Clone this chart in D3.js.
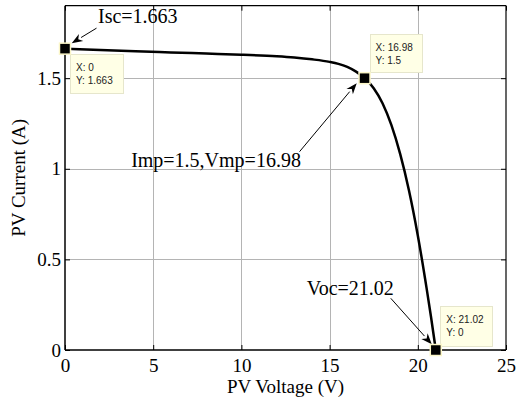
<!DOCTYPE html>
<html><head><meta charset="utf-8">
<script src="https://cdn.jsdelivr.net/npm/d3@7"></script>
<style>body{margin:0;background:#fff}svg{display:block}</style>
</head><body>
<svg id="c" width="516" height="400"></svg>
<script>
// ---- data ----
const voltage = [0, 2, 4, 6, 8, 10, 12, 13, 14, 15, 15.5, 16, 16.5, 16.98, 17.5, 18, 18.5, 19, 19.5, 20, 20.5, 20.75, 21.02];
const current = [1.663, 1.655, 1.648, 1.642, 1.636, 1.630, 1.621, 1.614, 1.604, 1.590, 1.579, 1.562, 1.536, 1.5, 1.445, 1.362, 1.242, 1.082, 0.88, 0.632, 0.34, 0.182, 0];
const xTicks = [0, 5, 10, 15, 20, 25];
const yTicks = [0, 0.5, 1, 1.5];
const tipX = [0, 16.98, 21.02];
const tipY = [1.663, 1.5, 0];
const tipLabelX = ["X: 0", "X: 16.98", "X: 21.02"];
const tipLabelY = ["Y: 1.663", "Y: 1.5", "Y: 0"];
const annText = ["Isc=1.663", "Imp=1.5,Vmp=16.98", "Voc=21.02"];
const xLabel = "PV Voltage (V)";
const yLabel = "PV Current (A)";

// ---- layout ----
const W = 516, H = 400;
const m = {l: 65, r: 10, t: 5.7, b: 50};
const svg = d3.select("#c");
const x = d3.scaleLinear().domain([0, 25]).range([m.l, W - m.r]);
const y = d3.scaleLinear().domain([0, 1.9]).range([H - m.b, m.t]);
const serif = "'Liberation Serif','Times New Roman',serif";

// grid
const g = svg.append("g");
g.selectAll(".gx").data(xTicks.slice(1, -1)).join("line")
  .attr("x1", d => Math.round(x(d)) + 0.5).attr("x2", d => Math.round(x(d)) + 0.5)
  .attr("y1", y(1.9)).attr("y2", y(0)).attr("stroke", "#b4b4b4").attr("stroke-width", 1);
g.selectAll(".gy").data(yTicks.slice(1)).join("line")
  .attr("y1", d => Math.round(y(d)) + 0.5).attr("y2", d => Math.round(y(d)) + 0.5)
  .attr("x1", x(0)).attr("x2", x(25)).attr("stroke", "#b4b4b4").attr("stroke-width", 1);

// axes (ticks inside, on all four sides)
const ax = d3.axisBottom(x).tickValues(xTicks).tickSize(-5).tickPadding(9).tickFormat(d3.format("d"));
const ay = d3.axisLeft(y).tickValues(yTicks).tickSize(-5).tickPadding(4).tickFormat(d => d === 0 ? "0" : d3.format("")(d));
const axT = d3.axisTop(x).tickValues(xTicks).tickSize(-5).tickFormat("");
const ayR = d3.axisRight(y).tickValues(yTicks).tickSize(-5).tickFormat("");
function style(sel) {
  sel.selectAll("path").attr("stroke", "#000").attr("stroke-width", 1.5);
  sel.selectAll("line").attr("stroke", "#000");
  sel.selectAll("text").attr("font-family", serif).attr("font-size", 19).attr("fill", "#000");
}
svg.append("g").attr("transform", `translate(0,${y(0)})`).call(ax).call(style)
  .selectAll("path.domain").attr("d", `M${x(0)},0H${x(25)}`);
svg.append("g").attr("transform", `translate(${x(0)},0)`).call(ay).call(style)
  .selectAll("path.domain").attr("d", `M0,${y(0)}V${y(1.9)}`);
svg.append("g").attr("transform", `translate(0,${y(1.9)})`).call(axT).call(style)
  .selectAll("path.domain").attr("d", `M${x(0)},0H${x(25)}`).attr("stroke-width", 1.2);
svg.append("g").attr("transform", `translate(${x(25)},0)`).call(ayR).call(style)
  .selectAll("path.domain").attr("d", `M0,${y(0)}V${y(1.9)}`).attr("stroke-width", 1.2);

// labels
svg.append("text").attr("x", (x(0) + x(25)) / 2).attr("y", 393).attr("text-anchor", "middle")
  .attr("font-family", serif).attr("font-size", 19).text(xLabel);
svg.append("text").attr("transform", `translate(25,${(y(0) + y(1.9)) / 2}) rotate(-90)`)
  .attr("text-anchor", "middle").attr("font-family", serif).attr("font-size", 19).text(yLabel);

// curve
const pts = voltage.map((v, i) => [v, current[i]]);
svg.append("path").datum(pts)
  .attr("d", d3.line().x(d => x(d[0])).y(d => y(d[1])).curve(d3.curveMonotoneX))
  .attr("fill", "none").attr("stroke", "#000").attr("stroke-width", 2.5).attr("stroke-linejoin", "round");

// annotations: offsets relative to the annotated point (pixels)
const annOff = [
  {tx: 33, ty: -25.4, anchor: "start", ax1: 31.5, ay1: -20.5, ax2: 6.7, ay2: -5.4},
  {tx: -148.5, ty: 88.5, anchor: "middle", ax1: -65, ay1: 73.5, ax2: -7.8, ay2: 5},
  {tx: -129, ty: -55, anchor: "start", ax1: -45, ay1: -51.7, ax2: -4, ay2: -5.7}
];
function arrow(x1, y1, x2, y2) {
  const a = Math.atan2(y2 - y1, x2 - x1), L = 11, hw = 4.2;
  const bx = x2 - L * Math.cos(a), by = y2 - L * Math.sin(a);
  svg.append("line").attr("x1", x1).attr("y1", y1).attr("x2", bx).attr("y2", by)
    .attr("stroke", "#000").attr("stroke-width", 1);
  const p1 = [bx + hw * Math.sin(a), by - hw * Math.cos(a)];
  const p2 = [bx - hw * Math.sin(a), by + hw * Math.cos(a)];
  const bm = [x2 - 0.7 * L * Math.cos(a), y2 - 0.7 * L * Math.sin(a)];
  svg.append("path").attr("d", `M${x2},${y2}L${p1}L${bm}L${p2}Z`).attr("fill", "#000");
}
annText.forEach((t, i) => {
  const px = x(tipX[i]), py = y(tipY[i]), o = annOff[i];
  svg.append("text").attr("x", px + o.tx).attr("y", py + o.ty).attr("text-anchor", o.anchor)
    .attr("font-family", serif).attr("font-size", 20).text(t);
  arrow(px + o.ax1, py + o.ay1, px + o.ax2, py + o.ay2);
});

// datatips
const tipOff = [{dx: 5, dy: 5.5, w: 53, h: 39}, {dx: 5, dy: -44, w: 52, h: 38}, {dx: 4.5, dy: -44, w: 52, h: 40}];
tipX.forEach((v, i) => {
  const px = x(v), py = y(tipY[i]), o = tipOff[i];
  const bx = px + o.dx, by = py + o.dy;
  svg.append("rect").attr("x", Math.round(bx) + 0.5).attr("y", Math.round(by) + 0.5)
    .attr("width", o.w).attr("height", o.h).attr("fill", "#ffffe6").attr("stroke", "#e6e6cc").attr("stroke-width", 1);
  svg.append("text").attr("x", bx + 6).attr("y", by + 16.5).attr("font-family", "'Liberation Sans',Arial,sans-serif")
    .attr("font-size", 10).attr("fill", "#222").text(tipLabelX[i]);
  svg.append("text").attr("x", bx + 6).attr("y", by + 30).attr("font-family", "'Liberation Sans',Arial,sans-serif")
    .attr("font-size", 10).attr("fill", "#222").text(tipLabelY[i]);
  svg.append("rect").attr("x", px - 5.5).attr("y", py - 5.5).attr("width", 11).attr("height", 11)
    .attr("fill", "#000").attr("stroke", "#fbf6c8").attr("stroke-width", 1.5);
});
</script>
</body></html>
